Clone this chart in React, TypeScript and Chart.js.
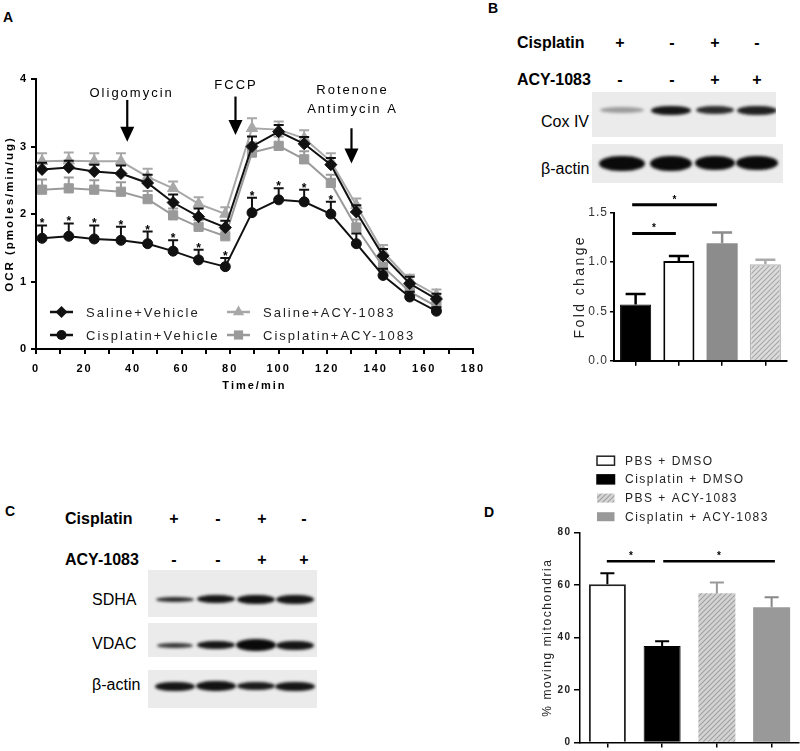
import React, { useEffect, useRef } from 'react';
import { Chart, registerables } from 'chart.js';

Chart.register(...registerables);

const FONT = '"Liberation Sans", Arial, Helvetica, sans-serif';

// ---------------- Panel A data (OCR, pmoles/min/ug) ----------------
const timeMin = [2.5, 13.5, 24, 35, 46, 56.5, 67, 78, 89, 100, 110.5, 121.5, 132, 143, 154, 165];
const salineVehicle = [2.66, 2.69, 2.63, 2.6, 2.46, 2.17, 1.96, 1.8, 3.0, 3.22, 3.04, 2.73, 2.03, 1.38, 0.97, 0.74];
const salineVehicleErr = [0.1, 0.1, 0.1, 0.12, 0.12, 0.12, 0.12, 0.1, 0.15, 0.1, 0.1, 0.1, 0.1, 0.1, 0.1, 0.08];
const cisVehicle = [1.64, 1.67, 1.63, 1.61, 1.56, 1.45, 1.32, 1.22, 2.02, 2.21, 2.18, 2.0, 1.56, 1.09, 0.77, 0.56];
const cisVehicleErr = [0.19, 0.19, 0.2, 0.2, 0.18, 0.16, 0.15, 0.13, 0.22, 0.17, 0.18, 0.18, 0.15, 0.1, 0.08, 0.06];
const salineAcy = [2.78, 2.79, 2.78, 2.78, 2.55, 2.38, 2.15, 2.0, 3.27, 3.25, 3.12, 2.78, 2.13, 1.44, 1.02, 0.8];
const salineAcyErr = [0.12, 0.12, 0.12, 0.12, 0.12, 0.1, 0.1, 0.1, 0.15, 0.12, 0.12, 0.12, 0.1, 0.1, 0.08, 0.08];
const cisAcy = [2.36, 2.38, 2.36, 2.33, 2.22, 1.98, 1.81, 1.67, 2.91, 3.01, 2.81, 2.46, 1.8, 1.22, 0.85, 0.63];
const cisAcyErr = [0.15, 0.16, 0.14, 0.14, 0.12, 0.1, 0.1, 0.1, 0.15, 0.14, 0.12, 0.12, 0.12, 0.1, 0.08, 0.07];
const cisVehicleStars = [0, 1, 2, 3, 4, 5, 6, 7, 8, 9, 10, 11];
const seriesNamesA = ['Saline+Vehicle', 'Cisplatin+Vehicle', 'Saline+ACY-1083', 'Cisplatin+ACY-1083'];

// drug injection annotations (minutes / OCR units)
const drugNames = [['Oligomycin'], ['FCCP'], ['Rotenone', 'Antimycin A']];
const drugArrowAt = [37.6, 82.2, 130];
const drugArrowTop = [3.69, 3.74, 3.27];
const drugArrowTip = [3.07, 3.17, 2.75];
const drugTextAt = [39, 82, 130];
const drugTextY = [[3.78], [3.91], [3.83, 3.55]];

// ---------------- Panel B data ----------------
const groupsB = ['Cisplatin+Vehicle', 'Saline+Vehicle', 'Cisplatin+ACY-1083', 'Saline+ACY-1083'];
const foldChange = [0.57, 1.01, 1.19, 0.977];
const foldChangeErr = [0.105, 0.05, 0.11, 0.045];
const sigB = [
  { from: -0.08, to: 0.93, y: 1.29 },
  { from: -0.08, to: 1.88, y: 1.58 },
];

// ---------------- Panel D data ----------------
const groupsD = ['PBS + DMSO', 'Cisplatin + DMSO', 'PBS + ACY-1083', 'Cisplatin + ACY-1083'];
const movingMito = [60.3, 36.8, 56.9, 51.6];
const movingMitoErr = [4.2, 1.8, 4.1, 3.8];
const sigD = [
  { from: -0.01, to: 0.87, y: 69.1 },
  { from: 1.02, to: 3.06, y: 69.1 },
];

// ---------------- Blot data ----------------
const cisplatinSigns = ['+', '-', '+', '-'];
const acySigns = ['-', '-', '+', '+'];
const coxIV = [0.35, 0.95, 0.85, 0.9];
const actinB = [1, 1, 1, 1];
const sdha = [0.85, 0.95, 0.97, 0.95];
const vdac = [0.8, 0.95, 1, 0.95];
const actinC = [0.95, 0.97, 0.93, 0.95];

const BLACK = '#111';
const GRAY_T = '#a8a8a8';
const GRAY_S = '#9a9a9a';

function drawMarker(ctx: CanvasRenderingContext2D, style: string, x: number, y: number, r: number, color: string) {
  ctx.fillStyle = color;
  ctx.beginPath();
  if (style === 'circle') ctx.arc(x, y, r, 0, Math.PI * 2);
  else if (style === 'rectRot') {
    ctx.moveTo(x, y - r); ctx.lineTo(x + r, y); ctx.lineTo(x, y + r); ctx.lineTo(x - r, y);
  } else if (style === 'triangle') {
    for (let k = 0; k < 3; k++) {
      const a = (k * 2 * Math.PI) / 3;
      const px = x + Math.sin(a) * r, py = y - Math.cos(a) * r;
      if (k === 0) ctx.moveTo(px, py); else ctx.lineTo(px, py);
    }
  } else {
    const s = r * Math.SQRT1_2;
    ctx.rect(x - s, y - s, 2 * s, 2 * s);
  }
  ctx.closePath();
  ctx.fill();
}

function makeHatch(ctx: CanvasRenderingContext2D, bg: string, line: string) {
  const c = document.createElement('canvas');
  c.width = 5; c.height = 5;
  const g = c.getContext('2d')!;
  g.fillStyle = bg; g.fillRect(0, 0, 5, 5);
  g.strokeStyle = line; g.lineWidth = 1.1;
  g.beginPath();
  g.moveTo(0, 5); g.lineTo(5, 0);
  g.moveTo(-1, 1); g.lineTo(1, -1);
  g.moveTo(4, 6); g.lineTo(6, 4);
  g.stroke();
  return ctx.createPattern(c, 'repeat');
}

const spacing = (px: number) => ({
  id: 'spacing',
  beforeDraw(chart: any) { chart.ctx.letterSpacing = px + 'px'; },
});

// ---------------- Chart A ----------------
function buildA(_ctx: CanvasRenderingContext2D): any {
  const mk = (label: string, vals: number[], err: number[], color: string, style: string, r: number, order: number, stars?: number[]) => ({
    label,
    data: timeMin.map((t, i) => ({ x: t, y: vals[i] })),
    borderColor: color,
    backgroundColor: color,
    pointBackgroundColor: color,
    pointBorderColor: color,
    pointStyle: style,
    pointRadius: r,
    pointBorderWidth: 1,
    borderWidth: 2,
    tension: 0,
    fill: false,
    order,
    errUp: err,
    stars,
  });
  const datasets = [
    mk(seriesNamesA[0], salineVehicle, salineVehicleErr, BLACK, 'rectRot', 6, 0),
    mk(seriesNamesA[1], cisVehicle, cisVehicleErr, BLACK, 'circle', 5, 1, cisVehicleStars),
    mk(seriesNamesA[2], salineAcy, salineAcyErr, GRAY_T, 'triangle', 6.5, 2),
    mk(seriesNamesA[3], cisAcy, cisAcyErr, GRAY_S, 'rect', 6.5, 3),
  ];
  const errPlugin = {
    id: 'errA',
    beforeDatasetDraw(chart: any, args: any) {
      const ds = chart.data.datasets[args.index];
      if (!ds.errUp) return;
      const ctx = chart.ctx, ys = chart.scales.y;
      ctx.save();
      ctx.strokeStyle = ds.borderColor; ctx.lineWidth = 2;
      args.meta.data.forEach((pt: any, i: number) => {
        const top = ys.getPixelForValue(ds.data[i].y + ds.errUp[i]);
        ctx.beginPath();
        ctx.moveTo(pt.x, pt.y); ctx.lineTo(pt.x, top);
        ctx.moveTo(pt.x - 5, top); ctx.lineTo(pt.x + 5, top);
        ctx.stroke();
      });
      ctx.restore();
    },
    afterDraw(chart: any) {
      const ctx = chart.ctx, xs = chart.scales.x, ys = chart.scales.y, ca = chart.chartArea;
      ctx.save();
      // significance stars
      ctx.letterSpacing = '0px';
      ctx.fillStyle = '#000';
      ctx.font = `bold 12px ${FONT}`;
      ctx.textAlign = 'center'; ctx.textBaseline = 'alphabetic';
      chart.data.datasets.forEach((ds: any, di: number) => {
        if (!ds.stars) return;
        const meta = chart.getDatasetMeta(di);
        ds.stars.forEach((i: number) => {
          const top = ys.getPixelForValue(ds.data[i].y + ds.errUp[i]);
          ctx.fillText('*', meta.data[i].x, top + 2);
        });
      });
      // drug annotations
      ctx.letterSpacing = '2px';
      ctx.font = `13px ${FONT}`;
      ctx.textBaseline = 'middle';
      drugNames.forEach((lines, k) => {
        lines.forEach((t, j) => ctx.fillText(t, xs.getPixelForValue(drugTextAt[k]) + 1, ys.getPixelForValue(drugTextY[k][j])));
        const ax = xs.getPixelForValue(drugArrowAt[k]);
        const y0 = ys.getPixelForValue(drugArrowTop[k]);
        const y1 = ys.getPixelForValue(drugArrowTip[k]);
        ctx.strokeStyle = '#000'; ctx.lineWidth = 2.2;
        ctx.beginPath(); ctx.moveTo(ax, y0); ctx.lineTo(ax, y1 - 13); ctx.stroke();
        ctx.beginPath(); ctx.moveTo(ax - 7, y1 - 15); ctx.lineTo(ax + 7, y1 - 15); ctx.lineTo(ax, y1); ctx.closePath(); ctx.fill();
      });
      // legend (2 x 2)
      ctx.letterSpacing = '2px';
      ctx.font = `13px ${FONT}`;
      ctx.textAlign = 'left';
      const cols = [ca.left + 14, ca.left + 191];
      const rows = [ca.bottom - 37, ca.bottom - 14];
      const pos = [[0, 0], [0, 1], [1, 0], [1, 1]];
      chart.data.datasets.forEach((ds: any, i: number) => {
        const x0 = cols[pos[i][0]], y0 = rows[pos[i][1]];
        ctx.strokeStyle = ds.borderColor; ctx.lineWidth = 2.5;
        ctx.beginPath(); ctx.moveTo(x0, y0); ctx.lineTo(x0 + 23, y0); ctx.stroke();
        drawMarker(ctx, ds.pointStyle, x0 + 11.5, y0, ds.pointRadius, ds.borderColor);
        ctx.fillStyle = '#222';
        ctx.fillText(ds.label, x0 + 36, y0 + 1);
      });
      ctx.restore();
    },
  };
  return {
    type: 'line',
    data: { datasets },
    options: {
      responsive: false,
      animation: false,
      layout: { padding: { top: 19, right: 17, bottom: 0, left: 0 } },
      plugins: { legend: { display: false }, tooltip: { enabled: false } },
      scales: {
        x: {
          type: 'linear', min: 0, max: 180,
          afterFit: (s: any) => { s.height = 51; },
          ticks: {
            stepSize: 10, autoSkip: false, maxRotation: 0, padding: 8,
            callback: (v: any) => (v % 20 === 0 ? String(v) : ''),
            font: { family: FONT, size: 11, weight: 'bold' }, color: '#000',
          },
          grid: { drawOnChartArea: false, drawTicks: true, tickLength: 5, color: '#000', lineWidth: 2 },
          border: { display: true, color: '#000', width: 2 },
          title: { display: true, text: 'Time/min', color: '#000', font: { family: FONT, size: 11, weight: 'bold' }, padding: { top: 0, bottom: 7.4 } },
        },
        y: {
          min: 0, max: 4,
          afterFit: (s: any) => { s.width = 36; },
          ticks: { stepSize: 1, padding: 3, font: { family: FONT, size: 11, weight: 'bold' }, color: '#000' },
          grid: { drawOnChartArea: false, drawTicks: true, tickLength: 5, color: '#000', lineWidth: 2 },
          border: { display: true, color: '#000', width: 2 },
          title: { display: true, text: 'OCR (pmoles/min/ug)', color: '#000', font: { family: FONT, size: 11.5, weight: 'bold' }, padding: { top: 3.2, bottom: 0 } },
        },
      },
    },
    plugins: [spacing(2), errPlugin],
  };
}

// ---------------- Bar chart helper (B and D) ----------------
function barExtras(opts: any) {
  return {
    id: 'barExtras',
    afterDatasetsDraw(chart: any) {
      const ctx = chart.ctx, xs = chart.scales.x, ys = chart.scales.y, ca = chart.chartArea;
      const ds = chart.data.datasets[0];
      const meta = chart.getDatasetMeta(0);
      ctx.save();
      meta.data.forEach((bar: any, i: number) => {
        const top = ys.getPixelForValue(ds.data[i] + opts.err[i]);
        ctx.strokeStyle = opts.errColors[i]; ctx.lineWidth = opts.errWidth;
        ctx.beginPath();
        ctx.moveTo(bar.x, bar.y); ctx.lineTo(bar.x, top);
        ctx.moveTo(bar.x - opts.cap, top); ctx.lineTo(bar.x + opts.cap, top);
        ctx.stroke();
      });
      ctx.strokeStyle = '#000'; ctx.fillStyle = '#000'; ctx.lineWidth = opts.sigWidth;
      ctx.letterSpacing = '0px';
      opts.sig.forEach((s: any) => {
        const x1 = xs.getPixelForValue(s.from), x2 = xs.getPixelForValue(s.to), yy = ys.getPixelForValue(s.y);
        ctx.beginPath(); ctx.moveTo(x1, yy); ctx.lineTo(x2, yy); ctx.stroke();
        ctx.font = `bold 10px ${FONT}`;
        ctx.textAlign = 'center'; ctx.textBaseline = 'alphabetic';
        ctx.fillText('*', (x1 + x2) / 2, yy - 2);
      });
      // axis title
      ctx.save();
      ctx.translate(opts.titleX, (ca.top + ca.bottom) / 2);
      ctx.rotate(-Math.PI / 2);
      ctx.font = opts.titleFont;
      ctx.letterSpacing = opts.titleSpacing;
      ctx.fillStyle = '#222';
      ctx.textAlign = 'center'; ctx.textBaseline = 'middle';
      ctx.fillText(opts.title, 0, 0);
      ctx.restore();
      // legend
      if (opts.legend) {
        ctx.font = `12px ${FONT}`;
        ctx.letterSpacing = '1.5px';
        ctx.textAlign = 'left'; ctx.textBaseline = 'middle';
        chart.data.labels.forEach((lab: string, i: number) => {
          const bx = ca.left + 17, by = ca.top - 72 + i * 18.67;
          ctx.fillStyle = ds.backgroundColor[i];
          ctx.fillRect(bx, by - 4.5, 17.5, 9);
          if (ds.borderWidth[i] > 0) {
            ctx.strokeStyle = ds.borderColor[i]; ctx.lineWidth = 1.5;
            ctx.strokeRect(bx, by - 4.5, 17.5, 9);
          }
          ctx.fillStyle = '#222';
          ctx.fillText(lab, bx + 28, by + 0.5);
        });
      }
      ctx.restore();
    },
  };
}

function buildB(ctx: CanvasRenderingContext2D): any {
  const hatch = makeHatch(ctx, '#dcdcdc', '#a6a6a6');
  return {
    type: 'bar',
    data: {
      labels: groupsB,
      datasets: [{
        data: foldChange,
        backgroundColor: ['#000', '#fff', '#8c8c8c', hatch],
        borderColor: ['#000', '#000', '#8c8c8c', '#b8b8b8'],
        borderWidth: [1, 2, 0, 1.5],
        categoryPercentage: 1,
        barPercentage: 0.72,
      }],
    },
    options: {
      responsive: false, animation: false,
      layout: { padding: { top: 32.7, right: 13, bottom: 0, left: 0 } },
      plugins: { legend: { display: false }, tooltip: { enabled: false } },
      scales: {
        x: {
          afterFit: (s: any) => { s.height = 19.3; },
          ticks: { callback: () => '' },
          grid: { offset: false, drawOnChartArea: false, drawTicks: true, tickLength: 5, color: '#000', lineWidth: 1.5 },
          border: { display: true, color: '#000', width: 2 },
        },
        y: {
          min: 0, max: 1.5,
          afterFit: (s: any) => { s.width = 54; },
          ticks: { stepSize: 0.5, padding: 2, callback: (v: any) => Number(v).toFixed(1), font: { family: FONT, size: 12 }, color: '#333' },
          grid: { drawOnChartArea: false, drawTicks: true, tickLength: 4, color: '#000', lineWidth: 1.5 },
          border: { display: true, color: '#000', width: 2 },
        },
      },
    },
    plugins: [spacing(1), barExtras({
      err: foldChangeErr, errColors: ['#000', '#000', '#8c8c8c', '#aaa'], errWidth: 2.5, cap: 10,
      sig: sigB, sigWidth: 3, title: 'Fold change', titleX: 20, titleFont: `14px ${FONT}`, titleSpacing: '2.4px',
    })],
  };
}

function buildD(ctx: CanvasRenderingContext2D): any {
  const hatch = makeHatch(ctx, '#d4d4d4', '#a0a0a0');
  return {
    type: 'bar',
    data: {
      labels: groupsD,
      datasets: [{
        data: movingMito,
        backgroundColor: ['#fff', '#000', hatch, '#999'],
        borderColor: ['#222', '#000', '#bbb', '#999'],
        borderWidth: [2, 1, 0, 0],
        categoryPercentage: 1,
        barPercentage: 0.676,
      }],
    },
    options: {
      responsive: false, animation: false,
      layout: { padding: { top: 92.7, right: 1, bottom: 0, left: 0 } },
      plugins: { legend: { display: false }, tooltip: { enabled: false } },
      scales: {
        x: {
          afterFit: (s: any) => { s.height = 5.3; },
          ticks: { callback: () => '' },
          grid: { offset: false, drawOnChartArea: false, drawTicks: true, tickLength: 5, color: '#000', lineWidth: 1.5 },
          border: { display: true, color: '#000', width: 1.5 },
        },
        y: {
          min: 0, max: 80,
          afterFit: (s: any) => { s.width = 60; },
          ticks: { stepSize: 20, padding: 2.5, font: { family: FONT, size: 10, weight: 'bold' }, color: '#222' },
          grid: { drawOnChartArea: false, drawTicks: true, tickLength: 6, color: '#000', lineWidth: 1.5 },
          border: { display: true, color: '#000', width: 1.5 },
        },
      },
    },
    plugins: [spacing(1.5), barExtras({
      err: movingMitoErr, errColors: ['#000', '#000', '#999', '#888'], errWidth: 2, cap: 7,
      sig: sigD, sigWidth: 2.5, title: '% moving mitochondria', titleX: 28, titleFont: `12px ${FONT}`, titleSpacing: '1.6px',
      legend: true,
    })],
  };
}

function ChartBox({ left, top, width, height, build }: any) {
  const ref = useRef<HTMLCanvasElement>(null);
  useEffect(() => {
    const canvas = ref.current!;
    const chart = new Chart(canvas, build(canvas.getContext('2d')!));
    return () => chart.destroy();
  }, []);
  return <canvas ref={ref} width={width} height={height} style={{ position: 'absolute', left, top, width, height }} />;
}

function Txt({ x, cy, children, bold = false, size = 16, center = false }: any) {
  return (
    <div style={{
      position: 'absolute', left: center ? x - 30 : x, width: center ? 60 : undefined, top: cy - size / 2,
      fontSize: size, lineHeight: `${size}px`, fontWeight: bold ? 700 : 400, fontFamily: FONT,
      textAlign: center ? 'center' : 'left', whiteSpace: 'nowrap', color: '#000',
    }}>{children}</div>
  );
}

function Blot({ x0, x1, y0, y1, lanes, bandY, intens, heights, widths }: any) {
  return (
    <div style={{ position: 'absolute', left: x0, top: y0, width: x1 - x0, height: y1 - y0, background: '#ebebeb', overflow: 'hidden' }}>
      {lanes.map((cx: number, i: number) => (
        <div key={i} style={{
          position: 'absolute', left: cx - widths[i] / 2 - x0, top: bandY - heights[i] / 2 - y0,
          width: widths[i], height: heights[i], borderRadius: '45% / 50%',
          background: `rgba(10,10,10,${intens[i]})`, filter: 'blur(1.6px)',
        }} />
      ))}
    </div>
  );
}

export default function App() {
  const lanesB = [622, 671, 715, 757];
  const lanesC = [174.5, 216, 256, 295];
  return (
    <div style={{ position: 'absolute', left: 0, top: 0, width: 800, height: 751, background: '#fff', overflow: 'hidden' }}>
      <Txt x={3} cy={16.5} bold size={14}>A</Txt>
      <Txt x={488} cy={8} bold size={14}>B</Txt>
      <Txt x={5} cy={511} bold size={14}>C</Txt>
      <Txt x={484} cy={512} bold size={14}>D</Txt>

      <ChartBox left={0} top={60} width={490} height={340} build={buildA} />

      {/* Panel B blot */}
      <Txt x={517} cy={43} bold>Cisplatin</Txt>
      <Txt x={517} cy={80} bold>ACY-1083</Txt>
      {cisplatinSigns.map((s, i) => <Txt key={'bc' + i} x={[620, 672, 715, 757][i]} cy={43} bold center>{s}</Txt>)}
      {acySigns.map((s, i) => <Txt key={'ba' + i} x={[620, 672, 715, 757][i]} cy={80} bold center>{s}</Txt>)}
      <Blot x0={592} x1={776} y0={92} y1={137} lanes={lanesB} bandY={110} intens={coxIV} heights={[6, 9, 8, 9]} widths={[44, 40, 38, 40]} />
      <Txt x={541} cy={122}>Cox IV</Txt>
      <Blot x0={592} x1={783} y0={144} y1={183} lanes={lanesB} bandY={163} intens={actinB} heights={[15, 15, 14, 14]} widths={[46, 42, 40, 42]} />
      <Txt x={541} cy={169}>β-actin</Txt>

      <ChartBox left={560} top={180} width={240} height={200} build={buildB} />

      {/* Panel C blot */}
      <Txt x={65} cy={519} bold>Cisplatin</Txt>
      <Txt x={65} cy={560} bold>ACY-1083</Txt>
      {cisplatinSigns.map((s, i) => <Txt key={'cc' + i} x={[174, 218, 262, 304][i]} cy={519} bold center>{s}</Txt>)}
      {acySigns.map((s, i) => <Txt key={'ca' + i} x={[174, 218, 262, 304][i]} cy={560} bold center>{s}</Txt>)}
      <Blot x0={148} x1={317} y0={570} y1={617} lanes={lanesC} bandY={599} intens={sdha} heights={[5, 8, 9, 9]} widths={[38, 38, 38, 38]} />
      <Txt x={92} cy={600}>SDHA</Txt>
      <Blot x0={148} x1={317} y0={623} y1={657} lanes={lanesC} bandY={645} intens={vdac} heights={[5, 8, 12, 9]} widths={[36, 38, 40, 38]} />
      <Txt x={92} cy={644}>VDAC</Txt>
      <Blot x0={148} x1={317} y0={670} y1={708} lanes={lanesC} bandY={686} intens={actinC} heights={[9, 10, 8, 9]} widths={[40, 40, 38, 40]} />
      <Txt x={92} cy={685}>β-actin</Txt>

      <ChartBox left={520} top={440} width={280} height={311} build={buildD} />
    </div>
  );
}
